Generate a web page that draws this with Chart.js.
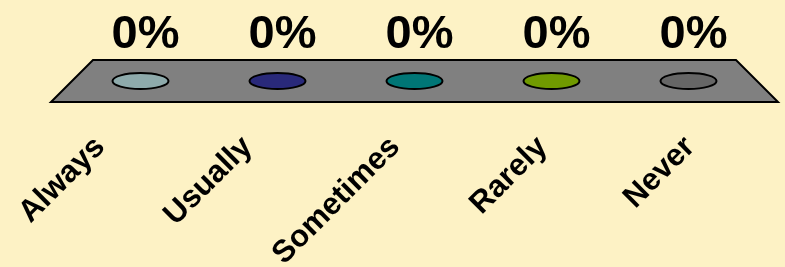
<!DOCTYPE html>
<html><head><meta charset="utf-8">
<script src="https://cdn.jsdelivr.net/npm/chart.js@4/dist/chart.umd.min.js"></script>
<style>html,body{margin:0;padding:0;background:#FDF2C5;overflow:hidden}
#wrap{width:785px;height:267px;position:relative}</style>
</head><body><div id="wrap"><canvas id="c" width="785" height="267"></canvas></div>
<script>
const categories = ['Always', 'Usually', 'Sometimes', 'Rarely', 'Never'];
const values = [0, 0, 0, 0, 0];           // share of responses (0 = 0%)
const colors = ['#8EAAAB', '#29297A', '#007676', '#709A00', '#666666'];

const FONT = '"Liberation Sans", Arial, sans-serif';

const floorPlugin = {
  id: 'floor',
  beforeDatasetsDraw(chart) {
    const { ctx, chartArea: a, scales: { y } } = chart;
    const base = y.getPixelForValue(0);
    const d = 21;
    ctx.save();
    ctx.beginPath();
    ctx.moveTo(a.left - d, base + d);
    ctx.lineTo(a.left + d, base - d);
    ctx.lineTo(a.right - d, base - d);
    ctx.lineTo(a.right + d, base + d);
    ctx.closePath();
    ctx.fillStyle = '#808080';
    ctx.fill();
    ctx.lineWidth = 2;
    ctx.strokeStyle = '#000';
    ctx.stroke();
    ctx.restore();
  },
  afterDatasetsDraw(chart) {
    const { ctx } = chart;
    const meta = chart.getDatasetMeta(0);
    const ds = chart.data.datasets[0];
    meta.data.forEach((el, i) => {
      ctx.save();
      ctx.beginPath();
      ctx.ellipse(el.x, el.y, 28, 8, 0, 0, Math.PI * 2);
      ctx.fillStyle = ds.backgroundColor[i];
      ctx.fill();
      ctx.lineWidth = 2;
      ctx.strokeStyle = '#000';
      ctx.stroke();
      ctx.fillStyle = '#000';
      ctx.font = 'bold 47px ' + FONT;
      ctx.textAlign = 'center';
      ctx.textBaseline = 'alphabetic';
      ctx.fillText(Math.round(ds.data[i] * 100) + '%', el.x + 5, el.y - 33);
      ctx.restore();
    });
  }
};

new Chart(document.getElementById('c'), {
  type: 'bar',
  data: {
    labels: categories,
    datasets: [{ data: values, backgroundColor: colors, borderWidth: 0 }]
  },
  plugins: [floorPlugin],
  options: {
    responsive: false,
    animation: false,
    devicePixelRatio: 1,
    layout: { padding: { left: 72, right: 28, top: 0, bottom: 0 } },
    plugins: { legend: { display: false }, tooltip: { enabled: false } },
    scales: {
      x: { type: 'category', display: false, offset: true },
      xl: {
        type: 'linear', position: 'bottom', offset: false, min: -0.19, max: 4.454,
        afterBuildTicks(ax) {
          ax.ticks = categories.map((_, i) => ({ value: i }));
          ax.min = -0.19; ax.max = 4.454;
        },
        afterFit(ax) {
          ax.height = 186;
          ax.paddingLeft = 0; ax.paddingRight = 0;
          ax.paddingTop = 0; ax.paddingBottom = 0;
        },
        grid: { display: false, drawTicks: false, offset: false },
        border: { display: false },
        ticks: {
          minRotation: 45, maxRotation: 45, autoSkip: false, padding: 48,
          color: '#000',
          font: { family: FONT, size: 31, weight: 'bold' },
          callback: (v) => categories[v]
        }
      },
      y: { display: false, min: 0, max: 1 }
    }
  }
});
</script>
</body></html>
